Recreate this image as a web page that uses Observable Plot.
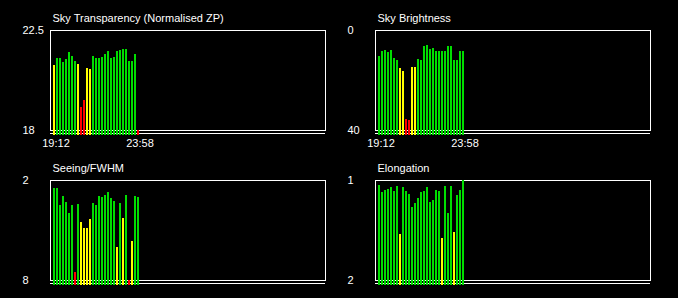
<!DOCTYPE html>
<html>
<head>
<meta charset="utf-8">
<script src="https://cdn.jsdelivr.net/npm/d3@7"></script>
<script src="https://cdn.jsdelivr.net/npm/@observablehq/plot@0.6"></script>
<style>
  html, body { margin: 0; padding: 0; background: #000; }
  #chart { position: relative; width: 678px; height: 298px; background: #000; overflow: hidden; }
  #chart > div { position: absolute; }
  #chart svg { display: block; }
</style>
</head>
<body>
<div id="chart"></div>
<script>
// ---- data (one value per ~10 minute slot, 19:12 -> 23:58) ----
const transparency = [20.93, 21.24, 21.24, 21.06, 21.20, 21.51, 21.33, 21.11, 20.97, 19.04, 19.35, 20.79, 20.75, 21.33, 21.24, 21.24, 21.29, 21.42, 21.56, 21.24, 21.29, 21.56, 21.60, 21.65, 21.65, 21.11, 21.11, 21.42, 17.6];
const transparencyStatus = "YGGGGGGGYRRYYGGGGGGGGGGGGGGGR".split("");

const brightness = [10.4, 8.4, 8.0, 8.8, 8.0, 11.2, 12.0, 15.2, 16.4, 35.6, 36.0, 14.8, 14.8, 11.6, 12.0, 6.4, 6.0, 7.6, 7.2, 8.4, 8.4, 8.4, 8.4, 6.4, 6.4, 12.0, 12.0, 8.4, 8.4];
const brightnessStatus = "GGGGGGGYYRRYYGGGGGGGGGGGGGGGG".split("");

const seeing = [2.48, 2.48, 3.50, 2.96, 3.32, 3.98, 3.50, 7.52, 3.44, 4.52, 4.88, 4.88, 4.34, 3.38, 3.50, 2.96, 3.02, 2.90, 2.72, 3.08, 3.26, 6.02, 3.38, 4.28, 2.90, 8.4, 5.66, 2.96, 3.02];
const seeingStatus = "GGGGGGGRGYYYYGGGGGGGGYGYGRYGG".split("");

const elongation = [1.05, 1.12, 1.10, 1.09, 1.07, 1.11, 1.06, 1.54, 1.07, 1.11, 1.14, 1.27, 1.23, 1.18, 1.12, 1.11, 1.07, 1.22, 1.20, 1.10, 1.11, 1.58, 1.06, 1.33, 1.06, 1.52, 1.15, 1.10, 1.00];
const elongationStatus = "GGGGGGGYGGGGGGGGGGGGGYGGGYGGG".split("");

// axis ends: [bottom label, top label]
const transparencyTicks = [18, 22.5];
const brightnessTicks = [40, 0];
const seeingTicks = [8, 2];
const elongationTicks = [2, 1];

// time labels (slot index -> label)
const timeSlots = [0, 28];
const timeLabels = ["19:12", "23:58"];

// whole night window, in slot units
const nightWindow = [-1, 90.67];

const statusKeys = ["G", "Y", "R"];
const statusColors = ["#00dd00", "#ffff00", "#ff0000"];

const FONT = "'Liberation Sans', Arial, Helvetica, sans-serif";

function panel({title, values, status, ticks, showTime, left, top}) {
  const data = values.map((v, i) => ({i, v, s: status[i]}));
  const timeData = timeSlots.map((i, k) => ({i, label: timeLabels[k]}));
  const bottom = ticks[0];
  const marks = [
    Plot.frame({stroke: "white", strokeWidth: 1}),
    Plot.ruleY([bottom], {stroke: "white", strokeWidth: 1, dy: 3}),
    Plot.rect(data, {
      x1: "i", x2: d => d.i + 1, y1: () => bottom, y2: "v",
      fill: "s", insetRight: 1, insetBottom: -5, shapeRendering: "crispEdges"
    }),
    Plot.text(ticks, {y: d => d, text: d => String(d), frameAnchor: "left", textAnchor: "start", dx: -28, fill: "white"}),
    Plot.text([title], {frameAnchor: "top-left", textAnchor: "start", lineAnchor: "bottom", dx: 2, dy: -9, fill: "white"})
  ];
  if (showTime) {
    marks.push(Plot.text(timeData, {x: d => d.i + 0.5, text: "label", frameAnchor: "bottom", dy: 16, dx: 1, fill: "white"}));
  }
  const svg = Plot.plot({
    width: 339,
    height: 150,
    marginLeft: 50,
    marginRight: 14,
    marginTop: 30,
    marginBottom: 20,
    style: {background: "transparent", color: "white", fontSize: "11px", fontFamily: FONT, overflow: "visible"},
    x: {domain: nightWindow, axis: null},
    y: {domain: ticks, axis: null, clamp: true},
    color: {domain: statusKeys, range: statusColors},
    marks
  });
  const wrap = document.createElement("div");
  wrap.style.left = left + "px";
  wrap.style.top = top + "px";
  wrap.appendChild(svg);
  document.getElementById("chart").appendChild(wrap);
}

panel({title: "Sky Transparency (Normalised ZP)", values: transparency, status: transparencyStatus, ticks: transparencyTicks, showTime: true, left: 0, top: 0});
panel({title: "Sky Brightness", values: brightness, status: brightnessStatus, ticks: brightnessTicks, showTime: true, left: 325, top: 0});
panel({title: "Seeing/FWHM", values: seeing, status: seeingStatus, ticks: seeingTicks, showTime: false, left: 0, top: 150});
panel({title: "Elongation", values: elongation, status: elongationStatus, ticks: elongationTicks, showTime: false, left: 325, top: 150});
</script>
</body>
</html>
